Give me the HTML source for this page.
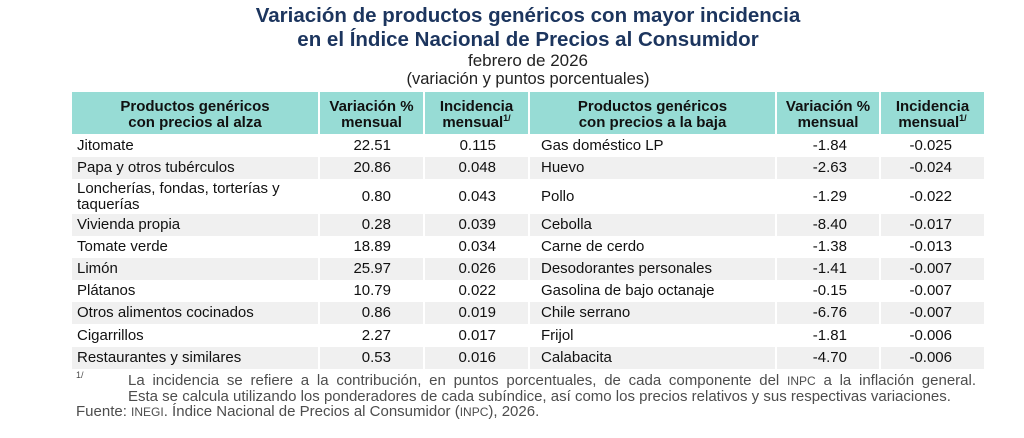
<!DOCTYPE html>
<html lang="es">
<head>
<meta charset="utf-8">
<style>
  html,body{margin:0;padding:0;}
  body{width:1024px;height:438px;background:#fff;position:relative;overflow:hidden;
       font-family:"Liberation Sans",Arial,sans-serif;color:#111;}
  .c{position:absolute;left:0;width:1056px;text-align:center;white-space:nowrap;}
  .t{font-weight:bold;font-size:20.5px;line-height:23.3px;color:#1c355e;}
  .row{position:absolute;left:72px;width:912px;}
  .cell{position:absolute;top:0;bottom:0;box-sizing:border-box;font-size:15px;white-space:nowrap;}
  .sep{border-left:2px solid #fff;}
  .hdr{background:#97dcd5;}
  .hdr .cell{font-weight:bold;text-align:center;line-height:16px;padding-top:7px;color:#111;}
  .g{background:#f0f0f0;}
  .num{text-align:right;padding-right:32px;}
  .l{padding-left:5px;}
  .r{padding-left:11px;}
  sup.s{font-size:9px;vertical-align:0;position:relative;top:-6px;}
  .fn{position:absolute;font-size:15px;line-height:15px;color:#4d4d4d;white-space:nowrap;}
  .sc{font-size:12px;}
</style>
</head>
<body>
<div class="c t" style="top:4px;">Variación de productos genéricos con mayor incidencia</div>
<div class="c t" style="top:27.5px;">en el Índice Nacional de Precios al Consumidor</div>
<div class="c" style="top:51px;font-size:17px;line-height:20px;color:#222;">febrero de 2026</div>
<div class="c" style="top:70px;font-size:16.5px;line-height:19px;color:#222;">(variación y puntos porcentuales)</div>

<div class="row hdr" style="top:92px;height:42px;">
  <div class="cell" style="left:0;width:246px;">Productos genéricos<br>con precios al alza</div>
  <div class="cell sep" style="left:246px;width:105px;">Variación %<br>mensual</div>
  <div class="cell sep" style="left:351px;width:105px;">Incidencia<br>mensual<sup class="s">1/</sup></div>
  <div class="cell sep" style="left:456px;width:247px;">Productos genéricos<br>con precios a la baja</div>
  <div class="cell sep" style="left:703px;width:104px;">Variación %<br>mensual</div>
  <div class="cell sep" style="left:807px;width:105px;">Incidencia<br>mensual<sup class="s">1/</sup></div>
</div>

<div class="row" style="top:134px;height:23px;line-height:23px;">
  <div class="cell l" style="left:0;width:246px;">Jitomate</div>
  <div class="cell sep num" style="left:246px;width:105px;">22.51</div>
  <div class="cell sep num" style="left:351px;width:105px;">0.115</div>
  <div class="cell sep r" style="left:456px;width:247px;">Gas doméstico LP</div>
  <div class="cell sep num" style="left:703px;width:104px;">-1.84</div>
  <div class="cell sep num" style="left:807px;width:105px;">-0.025</div>
</div>
<div class="row g" style="top:157px;height:22px;line-height:22px;">
  <div class="cell l" style="left:0;width:246px;">Papa y otros tubérculos</div>
  <div class="cell sep num" style="left:246px;width:105px;">20.86</div>
  <div class="cell sep num" style="left:351px;width:105px;">0.048</div>
  <div class="cell sep r" style="left:456px;width:247px;">Huevo</div>
  <div class="cell sep num" style="left:703px;width:104px;">-2.63</div>
  <div class="cell sep num" style="left:807px;width:105px;">-0.024</div>
</div>
<div class="row" style="top:179px;height:35px;line-height:35px;">
  <div class="cell l" style="left:0;width:246px;line-height:16px;padding-top:1.5px;">Loncherías, fondas, torterías y<br>taquerías</div>
  <div class="cell sep num" style="left:246px;width:105px;">0.80</div>
  <div class="cell sep num" style="left:351px;width:105px;">0.043</div>
  <div class="cell sep r" style="left:456px;width:247px;">Pollo</div>
  <div class="cell sep num" style="left:703px;width:104px;">-1.29</div>
  <div class="cell sep num" style="left:807px;width:105px;">-0.022</div>
</div>
<div class="row g" style="top:214px;height:22px;line-height:22px;">
  <div class="cell l" style="left:0;width:246px;">Vivienda propia</div>
  <div class="cell sep num" style="left:246px;width:105px;">0.28</div>
  <div class="cell sep num" style="left:351px;width:105px;">0.039</div>
  <div class="cell sep r" style="left:456px;width:247px;">Cebolla</div>
  <div class="cell sep num" style="left:703px;width:104px;">-8.40</div>
  <div class="cell sep num" style="left:807px;width:105px;">-0.017</div>
</div>
<div class="row" style="top:236px;height:22px;line-height:22px;">
  <div class="cell l" style="left:0;width:246px;">Tomate verde</div>
  <div class="cell sep num" style="left:246px;width:105px;">18.89</div>
  <div class="cell sep num" style="left:351px;width:105px;">0.034</div>
  <div class="cell sep r" style="left:456px;width:247px;">Carne de cerdo</div>
  <div class="cell sep num" style="left:703px;width:104px;">-1.38</div>
  <div class="cell sep num" style="left:807px;width:105px;">-0.013</div>
</div>
<div class="row g" style="top:258px;height:22px;line-height:22px;">
  <div class="cell l" style="left:0;width:246px;">Limón</div>
  <div class="cell sep num" style="left:246px;width:105px;">25.97</div>
  <div class="cell sep num" style="left:351px;width:105px;">0.026</div>
  <div class="cell sep r" style="left:456px;width:247px;">Desodorantes personales</div>
  <div class="cell sep num" style="left:703px;width:104px;">-1.41</div>
  <div class="cell sep num" style="left:807px;width:105px;">-0.007</div>
</div>
<div class="row" style="top:280px;height:22px;line-height:22px;">
  <div class="cell l" style="left:0;width:246px;">Plátanos</div>
  <div class="cell sep num" style="left:246px;width:105px;">10.79</div>
  <div class="cell sep num" style="left:351px;width:105px;">0.022</div>
  <div class="cell sep r" style="left:456px;width:247px;">Gasolina de bajo octanaje</div>
  <div class="cell sep num" style="left:703px;width:104px;">-0.15</div>
  <div class="cell sep num" style="left:807px;width:105px;">-0.007</div>
</div>
<div class="row g" style="top:302px;height:22px;line-height:22px;">
  <div class="cell l" style="left:0;width:246px;">Otros alimentos cocinados</div>
  <div class="cell sep num" style="left:246px;width:105px;">0.86</div>
  <div class="cell sep num" style="left:351px;width:105px;">0.019</div>
  <div class="cell sep r" style="left:456px;width:247px;">Chile serrano</div>
  <div class="cell sep num" style="left:703px;width:104px;">-6.76</div>
  <div class="cell sep num" style="left:807px;width:105px;">-0.007</div>
</div>
<div class="row" style="top:324px;height:23px;line-height:23px;">
  <div class="cell l" style="left:0;width:246px;">Cigarrillos</div>
  <div class="cell sep num" style="left:246px;width:105px;">2.27</div>
  <div class="cell sep num" style="left:351px;width:105px;">0.017</div>
  <div class="cell sep r" style="left:456px;width:247px;">Frijol</div>
  <div class="cell sep num" style="left:703px;width:104px;">-1.81</div>
  <div class="cell sep num" style="left:807px;width:105px;">-0.006</div>
</div>
<div class="row g" style="top:347px;height:22px;line-height:22px;">
  <div class="cell l" style="left:0;width:246px;">Restaurantes y similares</div>
  <div class="cell sep num" style="left:246px;width:105px;">0.53</div>
  <div class="cell sep num" style="left:351px;width:105px;">0.016</div>
  <div class="cell sep r" style="left:456px;width:247px;">Calabacita</div>
  <div class="cell sep num" style="left:703px;width:104px;">-4.70</div>
  <div class="cell sep num" style="left:807px;width:105px;">-0.006</div>
</div>

<div class="fn" style="left:76px;top:370px;font-size:9px;line-height:10px;">1/</div>
<div class="fn" style="left:128px;top:372.5px;width:848px;text-align:justify;text-align-last:justify;white-space:normal;">La incidencia se refiere a la contribución, en puntos porcentuales, de cada componente del <span class="sc">INPC</span> a la inflación general.</div>
<div class="fn" style="left:128px;top:388.5px;">Esta se calcula utilizando los ponderadores de cada subíndice, así como los precios relativos y sus respectivas variaciones.</div>
<div class="fn" style="left:76px;top:404px;">Fuente: <span class="sc">INEGI</span>. Índice Nacional de Precios al Consumidor (<span class="sc">INPC</span>), 2026.</div>
</body>
</html>
